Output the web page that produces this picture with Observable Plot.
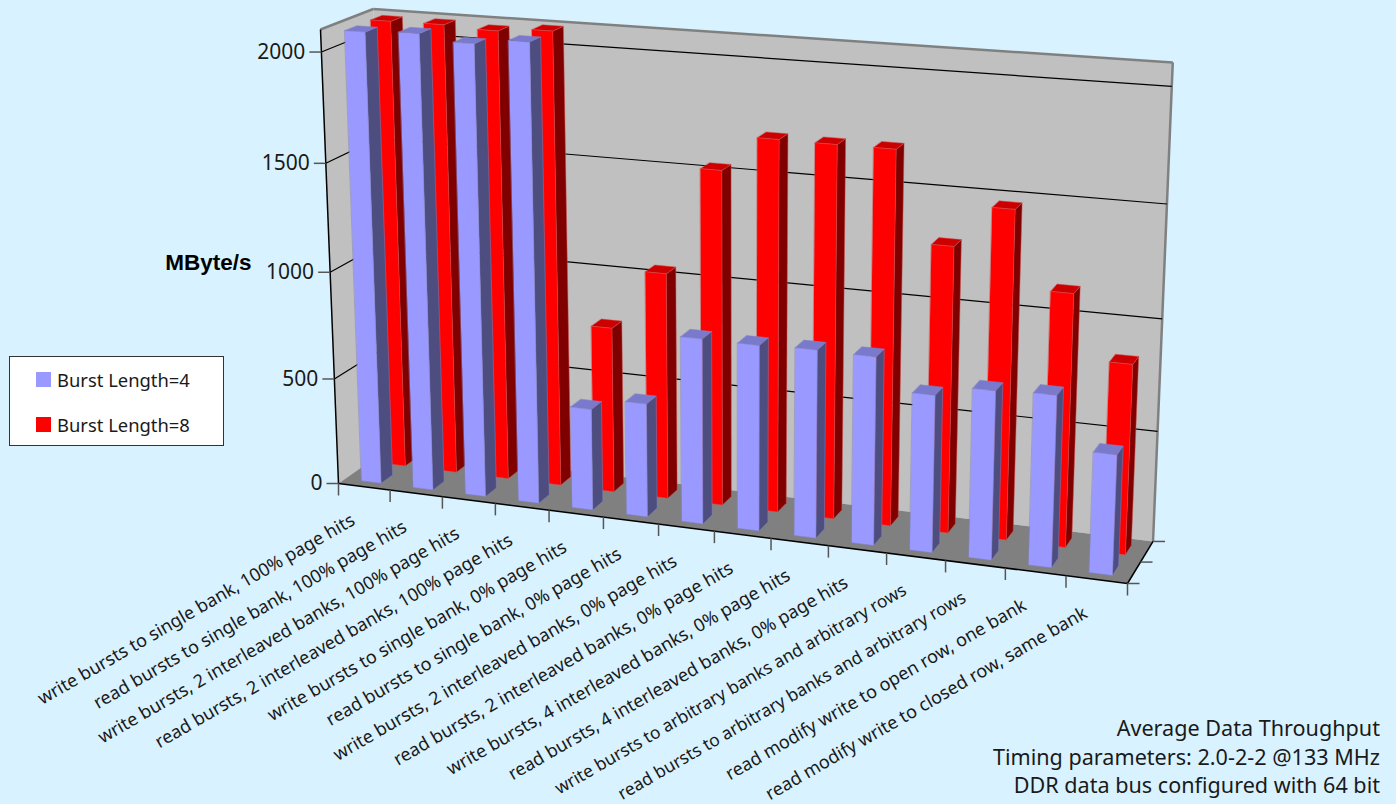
<!DOCTYPE html>
<html>
<head>
<meta charset="utf-8">
<script src="https://cdn.jsdelivr.net/npm/d3@7"></script>
<script src="https://cdn.jsdelivr.net/npm/@observablehq/plot@0.6"></script>
<style>
  html, body { margin: 0; padding: 0; background: #d9f2ff; width: 1396px; height: 804px; overflow: hidden; }
  #chart { position: absolute; left: 0; top: 0; }
  #legend { position: absolute; left: 9px; top: 356px; width: 213px; height: 88px; background: #fff; border: 1px solid #333; font: 18.4px "Noto Sans", sans-serif; color: #1a1a1a; }
  #legend div { position: absolute; left: 47px; white-space: nowrap; line-height: 24px; }
  #legend i { position: absolute; left: -21px; top: 4px; width: 15px; height: 15px; }
  #caption { position: absolute; right: 16px; top: 714px; text-align: right; font: 21.6px/28.5px "Noto Sans", sans-serif; color: #1a1a1a; white-space: nowrap; }
</style>
</head>
<body>
<div id="chart"></div>
<div id="legend"></div>
<div id="caption"></div>
<script>
const categories = [
  "write bursts to single bank, 100% page hits",
  "read bursts to single bank, 100% page hits",
  "write bursts, 2 interleaved banks, 100% page hits",
  "read bursts, 2 interleaved banks, 100% page hits",
  "write bursts to single bank, 0% page hits",
  "read bursts to single bank, 0% page hits",
  "write bursts, 2 interleaved banks, 0% page hits",
  "read bursts, 2 interleaved banks, 0% page hits",
  "write bursts, 4 interleaved banks, 0% page hits",
  "read bursts, 4 interleaved banks, 0% page hits",
  "write bursts to arbitrary banks and arbitrary rows",
  "read bursts to arbitrary banks and arbitrary rows",
  "read modify write to open row, one bank",
  "read modify write to closed row, same bank"
];
const burst4 = [2088, 2098, 2070, 2095, 470, 524, 847, 845, 851, 848, 706, 754, 763, 533];
const burst8 = [2090, 2091, 2080, 2096, 771, 1047, 1535, 1692, 1690, 1690, 1289, 1473, 1132, 849];
const axisTicks = [0, 500, 1000, 1500, 2000];
const seriesNames = ["Burst Length=4", "Burst Length=8"];
const captionLines = [
  "Average Data Throughput",
  "Timing parameters: 2.0-2-2 @133 MHz",
  "DDR data bus configured with 64 bit"
];

const axisMax = 2100;

// Perspective camera: screen images of the box origin and its three unit edges,
// plus the homogeneous weight of each edge.
const cam = {
  o: [338, 483], u: [1127, 583], v: [388, 448], z: [320, 29],
  wu: 0.91, wv: 1.035, wz: 0.957
};
function project(u, v, z) {
  const {o, u: U, v: V, z: Z, wu, wv, wz} = cam;
  const d = 1 + u * (wu - 1) + v * (wv - 1) + z * (wz - 1);
  const c = (i) => (o[i] + u * (wu * U[i] - o[i]) + v * (wv * V[i] - o[i]) + z * (wz * Z[i] - o[i])) / d;
  return [c(0), c(1)];
}
const zOf = (value) => value / axisMax;

function polygon(id, fill, corners) {
  return corners.map(([u, v, z]) => {
    const [px, py] = project(u, v, z);
    return {id, fill, px, py};
  });
}
function segment(id, a, b, da = [0, 0], db = [0, 0]) {
  const [x1, y1] = project(...a), [x2, y2] = project(...b);
  return {id, x1: x1 + da[0], y1: y1 + da[1], x2: x2 + db[0], y2: y2 + db[1]};
}

// Three visible faces of one bar
function barFaces(series, i, value, span, depth, colors) {
  const n = categories.length;
  const u0 = (i + span[0]) / n, u1 = (i + span[1]) / n;
  const [v0, v1] = depth;
  const z = zOf(value);
  return [
    ...polygon(`${series}-${i}-side`, colors.side, [[u1, v0, 0], [u1, v1, 0], [u1, v1, z], [u1, v0, z]]),
    ...polygon(`${series}-${i}-top`, colors.top, [[u0, v0, z], [u1, v0, z], [u1, v1, z], [u0, v1, z]]),
    ...polygon(`${series}-${i}-front`, colors.front, [[u0, v0, 0], [u1, v0, 0], [u1, v0, z], [u0, v0, z]])
  ];
}

const blueColors = {front: "#9999ff", side: "#4d4d80", top: "#7a7acc"};
const redColors = {front: "#ff0000", side: "#800000", top: "#cc0000"};
const barSpan = [0.32, 0.70];
const blueFaces = burst4.flatMap((d, i) => barFaces("b4", i, d, barSpan, [0.13, 0.36], blueColors));
const redFaces = burst8.flatMap((d, i) => barFaces("b8", i, d, barSpan, [0.62, 0.85], redColors));

const walls = [
  ...polygon("left", "#c0c0c0", [[0, 0, 0], [0, 1, 0], [0, 1, 1], [0, 0, 1]]),
  ...polygon("back", "#c0c0c0", [[0, 1, 0], [1, 1, 0], [1, 1, 1], [0, 1, 1]]),
  ...polygon("floor", "#808080", [[0, 0, 0], [1, 0, 0], [1, 1, 0], [0, 1, 0]])
];

const gridLines = axisTicks.filter((t) => t > 0).flatMap((t) => {
  const z = zOf(t);
  return [segment("l", [0, 0, z], [0, 1, z]), segment("b", [0, 1, z], [1, 1, z])];
});
const wallEdges = [
  segment("t1", [0, 0, 1], [0, 1, 1]),
  segment("t2", [0, 1, 1], [1, 1, 1]),
  segment("r", [1, 1, 1], [1, 1, 0])
];
const axisEdges = [
  segment("y", [0, 0, 0], [0, 0, 1]),
  segment("x", [0, 0, 0], [1, 0, 0]),
  segment("d", [1, 0, 0], [1, 1, 0])
];
const grayTicks = [
  ...axisTicks.map((t) => segment("yt", [0, 0, zOf(t)], [0, 0, zOf(t)], [-12, 0], [0, 0])),
  ...d3.range(categories.length + 1).map((i) => {
    const p = [i / categories.length, 0, 0];
    return segment("xt", p, p, [0, 0], [0, 12]);
  }),
  ...[0, 0.5, 1].map((v) => segment("dt", [1, v, 0], [1, v, 0], [0, 0], [12, 0]))
];

const valueLabels = axisTicks.map((t) => {
  const [px, py] = project(0, 0, zOf(t));
  return {t, px: px - 16, py};
});
const categoryLabels = categories.map((name, i) => {
  const [px, py] = project((i + 0.5) / categories.length, 0, 0);
  // The two longest labels run to the bottom edge, so they are set a little smaller
  return {name, px: px - 11, py: py + 32, size: name.includes("arbitrary") ? 17.4 : 18};
});

const seg = (data, options) => Plot.link(data, {x1: "x1", y1: "y1", x2: "x2", y2: "y2", ...options});
const face = (data, options) => Plot.line(data, {x: "px", y: "py", z: "id", fill: "fill", curve: "linear-closed", ...options});
const labelGroups = d3.groups(categoryLabels, (d) => d.size);

const chart = Plot.plot({
  width: 1396,
  height: 804,
  margin: 0,
  x: {domain: [0, 1396], range: [0, 1396], axis: null},
  y: {domain: [0, 804], range: [0, 804], axis: null},
  color: {type: "identity"},
  style: {background: "transparent"},
  marks: [
    face(walls, {stroke: null}),
    seg(wallEdges, {stroke: "#808080", strokeWidth: 2.5}),
    seg(gridLines, {stroke: "#000", strokeWidth: 1.2}),
    seg(axisEdges, {stroke: "#000", strokeWidth: 1.5}),
    seg(grayTicks, {stroke: "#555", strokeWidth: 1.5}),
    face(redFaces, {stroke: "#d05050", strokeWidth: 0.5}),
    face(blueFaces, {stroke: "#8080c0", strokeWidth: 0.5}),
    Plot.text(valueLabels, {x: "px", y: "py", text: (d) => String(d.t), textAnchor: "end", fontSize: 21, fontFamily: "Noto Sans", fill: "#1a1a1a"}),
    labelGroups.map(([size, rows]) => Plot.text(rows, {x: "px", y: "py", text: "name", textAnchor: "end", rotate: -30, fontSize: size, fontFamily: "Noto Sans", fill: "#1a1a1a"})),
    Plot.text(["MByte/s"], {x: 251, y: 262, text: (d) => d, textAnchor: "end", fontSize: 22.5, fontWeight: "bold", fontFamily: "Liberation Sans", fill: "#000"})
  ]
});
document.getElementById("chart").append(chart);

// Legend box and caption sit over the plot area
const swatchColors = [blueColors.front, redColors.front];
d3.select("#legend").selectAll("div").data(seriesNames).join("div")
  .style("top", (d, i) => `${i ? 56 : 11}px`)
  .text((d) => d)
  .append("i").style("background", (d, i) => swatchColors[i]);
d3.select("#caption").selectAll("div").data(captionLines).join("div").text((d) => d);
</script>
</body>
</html>
